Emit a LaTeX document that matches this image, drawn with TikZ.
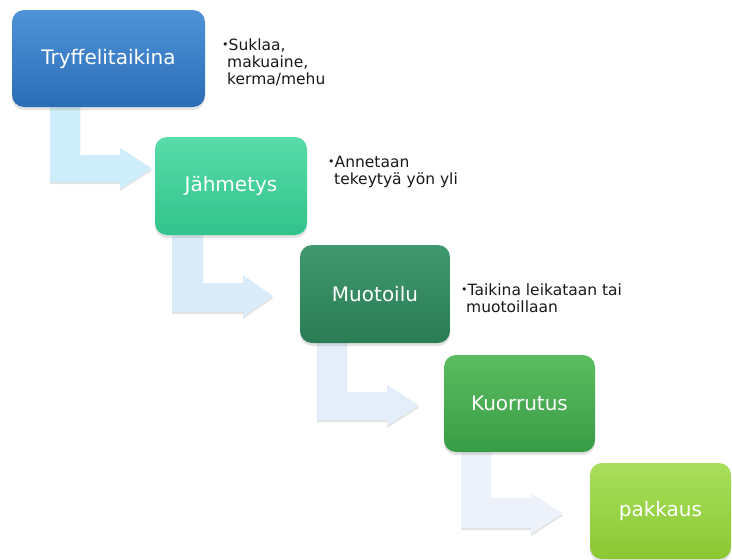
\documentclass[tikz,border=0pt]{standalone}
\usepackage{fontspec}
\setmainfont{DejaVu Sans}
\usetikzlibrary{shadows}
\definecolor{b1top}{RGB}{78,146,216}
\definecolor{b1bot}{RGB}{44,110,182}
\definecolor{b2top}{RGB}{88,220,170}
\definecolor{b2bot}{RGB}{50,194,140}
\definecolor{b3top}{RGB}{64,152,110}
\definecolor{b3bot}{RGB}{42,124,84}
\definecolor{b4top}{RGB}{92,188,96}
\definecolor{b4bot}{RGB}{56,156,70}
\definecolor{b5top}{RGB}{168,222,92}
\definecolor{b5bot}{RGB}{138,200,50}
\definecolor{a1col}{RGB}{205,238,250}
\definecolor{a2col}{RGB}{218,236,250}
\definecolor{a3col}{RGB}{228,238,250}
\definecolor{a4col}{RGB}{237,242,250}
\newcommand{\smallbul}{\raisebox{1.6pt}{\fontsize{11}{11}\selectfont •}}
\begin{document}
\begin{tikzpicture}[x=1pt,y=-1pt,
  stepbox/.style={rounded corners=12pt, inner sep=0pt, text=white,
    font=\fontsize{20}{24}\selectfont,
    drop shadow={shadow xshift=0pt,shadow yshift=-3pt,opacity=0.22}},
  bentarrow/.style={draw=none,
    drop shadow={shadow xshift=0pt,shadow yshift=-2pt,opacity=0.22}},
  note/.style={anchor=north west, align=left, inner sep=0pt,
    font=\fontsize{15.5}{17}\selectfont, text=black!90}]
\useasboundingbox[fill=white] (0,0) rectangle (732,560);
% bent arrows
\fill[bentarrow, fill=a1col] (50,100) -- (80,100) -- (80,155) -- (120,155) -- (120,148) -- (152,168.5) -- (120,189) -- (120,182) -- (50,182) -- cycle;
\fill[bentarrow, fill=a2col] (172,228) -- (203,228) -- (203,283) -- (243,283) -- (243,275) -- (273,296) -- (243,317) -- (243,312) -- (172,312) -- cycle;
\fill[bentarrow, fill=a3col] (317,336) -- (347,336) -- (347,392) -- (387,392) -- (387,385) -- (419,405.5) -- (387,426) -- (387,420) -- (317,420) -- cycle;
\fill[bentarrow, fill=a4col] (461,445) -- (491,445) -- (491,498) -- (531,498) -- (531,493) -- (563,513.5) -- (531,534) -- (531,528) -- (461,528) -- cycle;
% boxes
\node[stepbox, top color=b1top, bottom color=b1bot, minimum width=193pt, minimum height=97pt] (b1) at (108.5,58.5) {Tryffelitaikina};
\node[stepbox, top color=b2top, bottom color=b2bot, minimum width=152pt, minimum height=98pt] (b2) at (231,186) {Jähmetys};
\node[stepbox, top color=b3top, bottom color=b3bot, minimum width=150pt, minimum height=98pt] (b3) at (375,294) {Muotoilu};
\node[stepbox, top color=b4top, bottom color=b4bot, minimum width=151pt, minimum height=97pt] (b4) at (519.5,403.5) {Kuorrutus};
\node[stepbox, top color=b5top, bottom color=b5bot, minimum width=141pt, minimum height=96pt] (b5) at (660.5,511) {pakkaus};
% notes
\node[note] (n1) at (222,38.5) {\smallbul Suklaa,\\\hspace{5pt}makuaine,\\\hspace{5pt}kerma/mehu};
\node[note] (n2) at (328,155.5) {\smallbul Annetaan\\\hspace{6pt}tekeytyä yön yli};
\node[note] (n3) at (461,283.5) {\smallbul Taikina leikataan tai\\\hspace{5pt}muotoillaan};
\end{tikzpicture}
\end{document}
